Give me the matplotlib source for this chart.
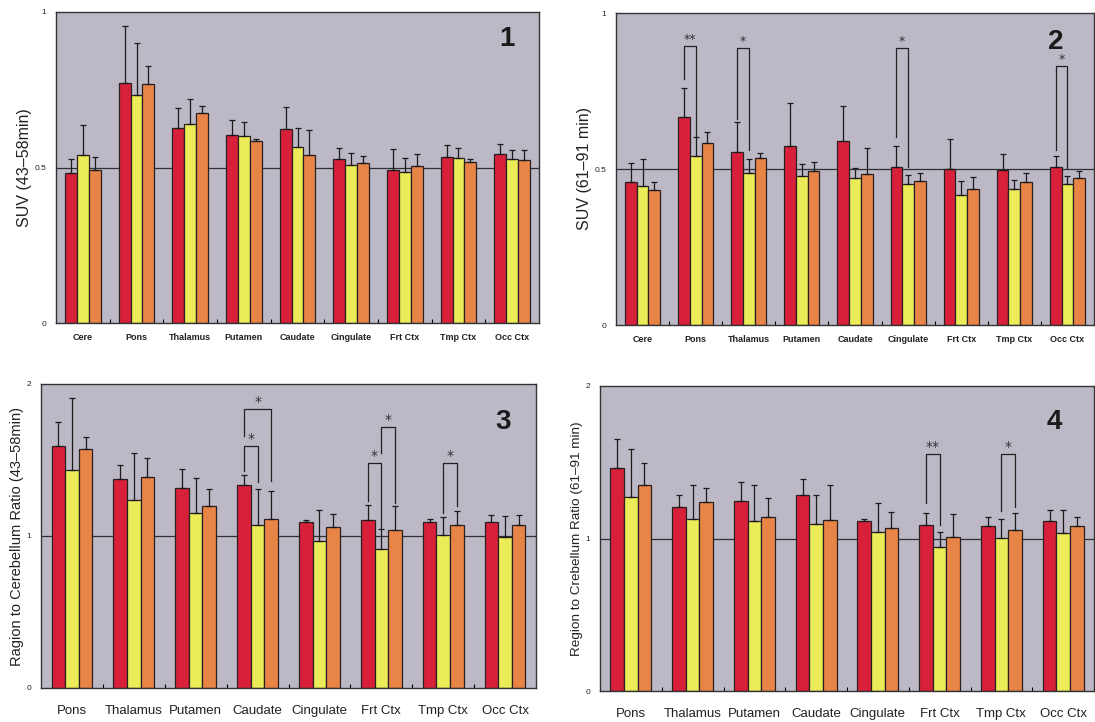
import matplotlib
matplotlib.use("Agg")
import matplotlib.pyplot as plt
import numpy as np

plt.rcParams["font.family"] = ["Liberation Sans", "DejaVu Sans"]

# ---------------- data ----------------
regions_suv = ["Cere", "Pons", "Thalamus", "Putamen", "Caudate", "Cingulate", "Frt Ctx", "Tmp Ctx", "Occ Ctx"]
regions_ratio = ["Pons", "Thalamus", "Putamen", "Caudate", "Cingulate", "Frt Ctx", "Tmp Ctx", "Occ Ctx"]

# panel 1: SUV 43-58 min
p1_red = [0.483, 0.772, 0.627, 0.605, 0.624, 0.526, 0.492, 0.535, 0.542]
p1_red_err = [0.043, 0.184, 0.064, 0.047, 0.071, 0.038, 0.067, 0.036, 0.034]
p1_yel = [0.539, 0.734, 0.639, 0.601, 0.565, 0.508, 0.486, 0.531, 0.527]
p1_yel_err = [0.099, 0.165, 0.080, 0.044, 0.062, 0.040, 0.046, 0.031, 0.028]
p1_org = [0.491, 0.770, 0.676, 0.584, 0.540, 0.513, 0.504, 0.518, 0.524]
p1_org_err = [0.043, 0.055, 0.021, 0.009, 0.080, 0.024, 0.039, 0.008, 0.032]

# panel 2: SUV 61-91 min
p2_red = [0.458, 0.668, 0.553, 0.575, 0.589, 0.508, 0.499, 0.496, 0.505]
p2_red_err = [0.062, 0.092, 0.099, 0.135, 0.112, 0.065, 0.098, 0.053, 0.038]
p2_yel = [0.446, 0.541, 0.486, 0.477, 0.472, 0.452, 0.417, 0.437, 0.453]
p2_yel_err = [0.087, 0.062, 0.046, 0.039, 0.030, 0.028, 0.046, 0.028, 0.024]
p2_org = [0.433, 0.584, 0.534, 0.493, 0.484, 0.460, 0.435, 0.459, 0.471]
p2_org_err = [0.025, 0.034, 0.018, 0.029, 0.083, 0.027, 0.040, 0.028, 0.021]

# panel 3: region / cerebellum ratio 43-58 min
p3_red = [1.591, 1.374, 1.319, 1.336, 1.092, 1.103, 1.095, 1.092]
p3_red_err = [0.156, 0.094, 0.121, 0.068, 0.013, 0.099, 0.019, 0.044]
p3_yel = [1.433, 1.235, 1.149, 1.075, 0.969, 0.916, 1.007, 0.993]
p3_yel_err = [0.477, 0.310, 0.233, 0.237, 0.200, 0.128, 0.118, 0.139]
p3_org = [1.571, 1.389, 1.200, 1.112, 1.062, 1.040, 1.070, 1.075]
p3_org_err = [0.082, 0.125, 0.108, 0.185, 0.085, 0.156, 0.093, 0.061]

# panel 4: region / cerebellum ratio 61-91 min
p4_red = [1.462, 1.204, 1.247, 1.284, 1.116, 1.088, 1.085, 1.116]
p4_red_err = [0.190, 0.078, 0.125, 0.105, 0.009, 0.080, 0.057, 0.070]
p4_yel = [1.269, 1.125, 1.112, 1.092, 1.044, 0.945, 1.002, 1.039]
p4_yel_err = [0.315, 0.227, 0.240, 0.190, 0.186, 0.097, 0.127, 0.147]
p4_org = [1.348, 1.239, 1.144, 1.123, 1.070, 1.011, 1.059, 1.083]
p4_org_err = [0.144, 0.089, 0.121, 0.227, 0.107, 0.147, 0.105, 0.059]

# significance brackets: (group, bar_a, bar_b, top, left_bottom, right_bottom, label)
p2_sig = [(1, 0, 1, 0.893, 0.789, 0.604, "**"),
          (2, 0, 1, 0.889, 0.660, 0.561, "*"),
          (5, 0, 1, 0.889, 0.604, 0.506, "*"),
          (8, 0, 1, 0.829, 0.561, 0.503, "*")]
p3_sig = [(3, 0, 1, 1.593, 1.429, 1.352, "*"),
          (3, 0, 2, 1.835, 1.660, 1.363, "*"),
          (5, 0, 1, 1.477, 1.231, 1.055, "*"),
          (5, 1, 2, 1.714, 1.549, 1.220, "*"),
          (6, 1, 2, 1.477, 1.154, 1.198, "*")]
p4_sig = [(5, 0, 1, 1.551, 1.230, 1.088, "**"),
          (6, 1, 2, 1.551, 1.182, 1.208, "*")]

# ---------------- style ----------------
RED = "#d8203a"
YEL = "#ecec58"
ORG = "#e98447"
BG = "#bcb8c6"
EDGE = "#2a2020"

fig = plt.figure(figsize=(10.95, 7.22), dpi=100)
W, H = 1095, 722


def add_axes(l, r, t, b):
    return fig.add_axes([l / W, 1 - b / H, (r - l) / W, (b - t) / H])


def draw_panel(ax, cats, series, errs, ymax, refline, ylabel, number, numpos,
               sig, xfs, xbold, xpad, ylfs, ylpad, sigfs):
    n = len(cats)
    x = np.arange(n)
    bw = 0.22
    offs = [-bw, 0, bw]
    colors = [RED, YEL, ORG]
    ax.set_facecolor(BG)
    ax.axhline(refline, color="#303030", lw=0.9, zorder=1)
    for vals, err, off, c in zip(series, errs, offs, colors):
        ax.bar(x + off, vals, bw, color=c, edgecolor=EDGE, linewidth=0.9, zorder=2)
        ax.errorbar(x + off, vals, yerr=[np.zeros(n), err], fmt="none",
                    ecolor="#1a1a1a", elinewidth=0.9, capsize=2.5, capthick=0.9, zorder=3)
    ax.set_xlim(-0.5, n - 0.5)
    ax.set_ylim(0, ymax)
    ax.set_yticks([0, refline, ymax])
    if ymax == 1:
        ax.set_yticklabels(["0", "0.5", "1"])
    else:
        ax.set_yticklabels(["0", "1", "2"])
    ax.tick_params(axis="y", length=0, labelsize=6, pad=7, colors="#222222")
    ax.set_xticks(x)
    ax.set_xticklabels(cats, fontsize=xfs, fontweight="bold" if xbold else "normal",
                       color="#222222")
    ax.tick_params(axis="x", which="major", length=0, pad=xpad)
    ax.set_xticks(np.arange(n - 1) + 0.5, minor=True)
    ax.tick_params(axis="x", which="minor", direction="in", length=3, width=0.8)
    for s in ax.spines.values():
        s.set_color("#333333")
        s.set_linewidth(1.0)
    ax.set_ylabel(ylabel, fontsize=ylfs, labelpad=ylpad, color="#222222")
    ax.text(numpos[0], numpos[1], number, transform=ax.transAxes, fontsize=20,
            fontweight="bold", family=["Liberation Sans Narrow", "Liberation Sans"],
            ha="center", va="center", color="#1a1a1a")
    for g, a, b, top, lb, rb, lab in sig:
        xa = g + offs[a]
        xb = g + offs[b]
        ax.plot([xa, xa, xb, xb], [lb, top, top, rb], color="#222222", lw=0.9, zorder=4)
        ax.text((xa + xb) / 2, top, lab, ha="center", va="bottom", family="DejaVu Sans",
                fontsize=sigfs, color="#333333", zorder=4)


ax1 = add_axes(56, 539, 12, 323)
draw_panel(ax1, regions_suv, [p1_red, p1_yel, p1_org], [p1_red_err, p1_yel_err, p1_org_err],
           1, 0.5, "SUV (43\u201358min)", "1", (0.934, 0.913), [], 6.5, True, 7, 11.5, 2, 9)

ax2 = add_axes(616, 1094, 13, 325)
draw_panel(ax2, regions_suv, [p2_red, p2_yel, p2_org], [p2_red_err, p2_yel_err, p2_org_err],
           1, 0.5, "SUV (61\u201391 min)", "2", (0.92, 0.907), p2_sig, 6.5, True, 7, 11.5, 2, 9)

ax3 = add_axes(41, 536, 384, 688)
draw_panel(ax3, regions_ratio, [p3_red, p3_yel, p3_org], [p3_red_err, p3_yel_err, p3_org_err],
           2, 1, "Ragion to Cerebellum Ratio (43\u201358min)", "3", (0.933, 0.875), p3_sig,
           9.5, False, 12, 10.5, 2, 10)

ax4 = add_axes(600, 1094, 386, 691)
draw_panel(ax4, regions_ratio, [p4_red, p4_yel, p4_org], [p4_red_err, p4_yel_err, p4_org_err],
           2, 1, "Region to Crebellum Ratio (61\u201391 min)", "4", (0.919, 0.882), p4_sig,
           9.5, False, 12, 9.7, 2, 10)

fig.savefig("out.png", dpi=100)
